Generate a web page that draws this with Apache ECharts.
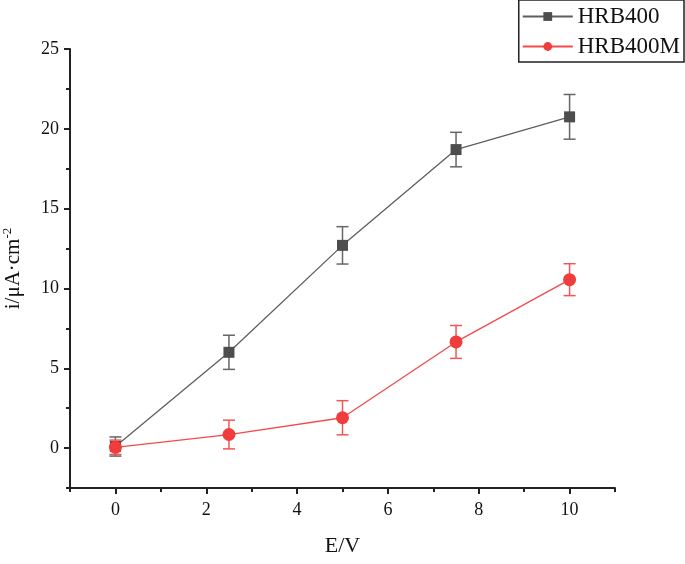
<!DOCTYPE html>
<html><head><meta charset="utf-8">
<script src="https://cdn.jsdelivr.net/npm/echarts@6/dist/echarts.min.js"></script>
<style>html,body{margin:0;padding:0;background:#fff}#c{width:685px;height:564px}</style>
</head><body><div id="c"></div>
<script>
const xValues = [0, 2.5, 5, 7.5, 10];
const hrb400 = [0.1, 6.0, 12.7, 18.7, 20.75];
const hrb400Err = [0.6, 1.07, 1.17, 1.08, 1.4];
const hrb400m = [0.05, 0.85, 1.9, 6.65, 10.55];
const hrb400mErr = [0.45, 0.9, 1.07, 1.03, 1.0];
const xTickLabels = [0, 2, 4, 6, 8, 10];
const xMinorTicks = [-1, 1, 3, 5, 7, 9, 11];
const yTickLabels = [0, 5, 10, 15, 20, 25];
const yMinorTicks = [-2.5, 2.5, 7.5, 12.5, 17.5, 22.5];

const FONT = '"Liberation Serif", "Times New Roman", serif';
const C1 = '#4d4d4d', L1 = '#5e5e5e';
const C2 = '#f03c3c', L2 = '#f44a4a';

function pts(ys){ return xValues.map((x,i)=>[x, ys[i]]); }
function errData(ys, es){ return xValues.map((x,i)=>[x, ys[i]-es[i], ys[i]+es[i]]); }
function errSeries(name, ys, es, color){
  return {
    type: 'custom', name: name, xAxisIndex: 0, yAxisIndex: 0, z: 1,
    data: errData(ys, es),
    renderItem: function(params, api){
      const x = api.value(0), lo = api.value(1), hi = api.value(2);
      const p1 = api.coord([x, lo]), p2 = api.coord([x, hi]);
      const w = 6;
      const st = {stroke: color, lineWidth: 1.5, fill: null};
      return {type: 'group', children: [
        {type:'line', shape:{x1:p1[0],y1:p1[1],x2:p2[0],y2:p2[1]}, style: st},
        {type:'line', shape:{x1:p1[0]-w,y1:p1[1],x2:p1[0]+w,y2:p1[1]}, style: st},
        {type:'line', shape:{x1:p2[0]-w,y1:p2[1],x2:p2[0]+w,y2:p2[1]}, style: st}
      ]};
    },
    silent: true
  };
}
const axisLineStyle = {show: true, onZero: false, lineStyle: {color: '#222', width: 2}};
const chart = echarts.init(document.getElementById('c'));
chart.setOption({
  animation: false,
  backgroundColor: '#fff',
  grid: {left: 70, right: 70, top: 49, bottom: 76, containLabel: false, outerBoundsMode: 'none'},
  legend: {
    orient: 'vertical', right: 1, top: 0,
    borderColor: '#222', borderWidth: 1.5, borderRadius: 0,
    padding: [5, 4, 4, 3], itemGap: 7,
    itemWidth: 50, itemHeight: 11,
    textStyle: {fontFamily: FONT, fontSize: 23, color: '#111', padding: [0,0,0,0]},
    data: ['HRB400', 'HRB400M']
  },
  xAxis: [
    {
      type: 'value', min: -1, max: 11,
      axisLine: axisLineStyle, splitLine: {show: false},
      name: 'E/V', nameLocation: 'middle', nameGap: 47,
      nameTextStyle: {fontFamily: FONT, fontSize: 22, color: '#111'},
      axisTick: {show: true, inside: false, length: 6, lineStyle: {color: '#222', width: 2}, customValues: xTickLabels},
      axisLabel: {fontFamily: FONT, fontSize: 18, color: '#111', margin: 13, customValues: xTickLabels}
    },
    {
      type: 'value', min: -1, max: 11, position: 'bottom',
      axisLine: {show: false, onZero: false}, splitLine: {show: false}, axisLabel: {show: false},
      axisTick: {show: true, length: 4, lineStyle: {color: '#222', width: 2}, customValues: xMinorTicks}
    }
  ],
  yAxis: [
    {
      type: 'value', min: -2.5, max: 25,
      axisLine: axisLineStyle, splitLine: {show: false},
      name: 'i/μA·cm{sup|-2}', nameLocation: 'middle', nameGap: 44, nameRotate: 90,
      nameTextStyle: {fontFamily: FONT, fontSize: 21, color: '#111',
        rich: {sup: {fontFamily: FONT, fontSize: 13, color: '#111', verticalAlign: 'top', padding: [0,0,12,0]}}},
      axisTick: {show: true, length: 6, lineStyle: {color: '#222', width: 2}, customValues: yTickLabels},
      axisLabel: {fontFamily: FONT, fontSize: 18, color: '#111', margin: 11, customValues: yTickLabels}
    },
    {
      type: 'value', min: -2.5, max: 25, position: 'left',
      axisLine: {show: false, onZero: false}, splitLine: {show: false}, axisLabel: {show: false},
      axisTick: {show: true, length: 4, lineStyle: {color: '#222', width: 2}, customValues: yMinorTicks}
    }
  ],
  series: [
    errSeries('err1', hrb400, hrb400Err, '#666'),
    errSeries('err2', hrb400m, hrb400mErr, '#f25555'),
    {
      name: 'HRB400', type: 'line', data: pts(hrb400), z: 3,
      symbol: 'rect', symbolSize: 11,
      itemStyle: {color: C1}, lineStyle: {color: L1, width: 1.3}
    },
    {
      name: 'HRB400M', type: 'line', data: pts(hrb400m), z: 4,
      symbol: 'circle', symbolSize: 13,
      itemStyle: {color: C2}, lineStyle: {color: L2, width: 1.3}
    }
  ]
});
</script></body></html>
